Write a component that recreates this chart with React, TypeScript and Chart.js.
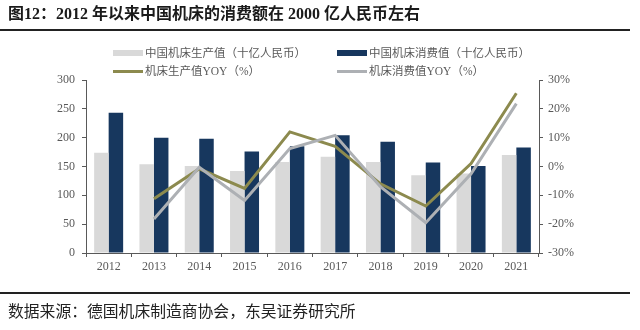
import React, { useEffect, useRef } from "react";
import { Chart, registerables } from "chart.js";

Chart.register(...registerables);

const years = ["2012", "2013", "2014", "2015", "2016", "2017", "2018", "2019", "2020", "2021"];
const production = [174, 154, 151, 142, 158, 167, 158, 135, 138, 170];
const consumption = [243, 200, 198, 176, 185, 204, 193, 157, 151, 183];
const productionYoY = [null, -11.2, -0.8, -7.6, 12, 7, -6, -13.7, 1, 25.4];
const consumptionYoY = [null, -18.2, -0.3, -11.8, 6.2, 10.8, -7, -19.5, -2.5, 21.8];

const labelProduction = "中国机床生产值（十亿人民币）";
const labelConsumption = "中国机床消费值（十亿人民币）";
const labelProdYoY = "机床生产值YOY（%）";
const labelConsYoY = "机床消费值YOY（%）";

const C_BAR_GRAY = "#D9D9D9";
const C_NAVY = "#17375E";
const C_OLIVE = "#8C8A4E";
const C_GRAYLINE = "#ADB0B4";
const AXIS = "#595959";

export default function App() {
  const ref = useRef<HTMLCanvasElement | null>(null);

  useEffect(() => {
    if (!ref.current) return;
    const tickFont = { family: "'Liberation Serif', 'Times New Roman', serif", size: 12 };
    const chart = new Chart(ref.current, {
      type: "bar",
      data: {
        labels: years,
        datasets: [
          {
            type: "line",
            label: labelConsYoY,
            data: consumptionYoY as any,
            yAxisID: "y1",
            borderColor: C_GRAYLINE,
            backgroundColor: C_GRAYLINE,
            borderWidth: 3,
            pointRadius: 0,
            tension: 0,
            order: 0,
          },
          {
            type: "line",
            label: labelProdYoY,
            data: productionYoY as any,
            yAxisID: "y1",
            borderColor: C_OLIVE,
            backgroundColor: C_OLIVE,
            borderWidth: 3,
            pointRadius: 0,
            tension: 0,
            order: 1,
          },
          {
            type: "bar",
            label: labelProduction,
            data: production,
            yAxisID: "y",
            backgroundColor: C_BAR_GRAY,
            barPercentage: 1,
            categoryPercentage: 0.64,
            order: 2,
          },
          {
            type: "bar",
            label: labelConsumption,
            data: consumption,
            yAxisID: "y",
            backgroundColor: C_NAVY,
            barPercentage: 1,
            categoryPercentage: 0.64,
            order: 2,
          },
        ],
      },
      options: {
        responsive: false,
        animation: false,
        devicePixelRatio: 1,
        layout: { padding: { top: 80, left: 0, right: 0, bottom: 0 } },
        plugins: {
          legend: { display: false },
          tooltip: { enabled: false },
          title: { display: false },
        },
        scales: {
          x: {
            offset: true,
            border: { display: true, color: AXIS, width: 1 },
            grid: { display: true, drawOnChartArea: false, drawTicks: true, tickLength: 4, color: AXIS, offset: true },
            ticks: { color: AXIS, font: tickFont, padding: 3, maxRotation: 0 },
            afterFit: (s: any) => { s.height = 77; },
          },
          y: {
            position: "left",
            min: 0,
            max: 300,
            border: { display: true, color: AXIS, width: 1 },
            grid: { display: true, drawOnChartArea: false, drawTicks: true, tickLength: 4, color: AXIS },
            ticks: { stepSize: 50, color: AXIS, font: tickFont, padding: 7 },
            afterFit: (s: any) => { s.width = 86; },
          },
          y1: {
            position: "right",
            min: -30,
            max: 30,
            border: { display: true, color: AXIS, width: 1 },
            grid: { display: true, drawOnChartArea: false, drawTicks: true, tickLength: 4, color: AXIS },
            ticks: {
              stepSize: 10,
              color: AXIS,
              font: tickFont,
              padding: 5,
              callback: (v: any) => `${v}%`,
            },
            afterFit: (s: any) => { s.width = 101; },
          },
        },
      },
    });
    return () => chart.destroy();
  }, []);

  const legendText: React.CSSProperties = {
    position: "absolute",
    fontFamily: "'Liberation Serif', 'Noto Sans CJK SC', serif",
    fontSize: 11.5,
    color: AXIS,
    whiteSpace: "nowrap",
    lineHeight: "14px",
  };

  return (
    <div style={{ position: "fixed", left: 0, top: 0, width: 640, height: 330, background: "#fff", overflow: "hidden" }}>
      <canvas ref={ref} width={640} height={330} style={{ position: "absolute", left: 0, top: 0, width: 640, height: 330 }} />
      <div
        style={{
          position: "absolute",
          left: 8,
          top: 5,
          fontFamily: "'Liberation Serif', 'Noto Sans CJK SC', serif",
          fontWeight: "bold",
          fontSize: 16,
          lineHeight: "18px",
          color: "#1a1a1a",
          whiteSpace: "nowrap",
        }}
      >
        图12：2012 年以来中国机床的消费额在 2000 亿人民币左右
      </div>
      <div style={{ position: "absolute", left: 0, top: 29, width: 630, height: 2, background: "#222" }} />

      <div style={{ position: "absolute", left: 113, top: 50, width: 30, height: 6, background: C_BAR_GRAY }} />
      <div style={{ ...legendText, left: 145, top: 46 }}>{labelProduction}</div>
      <div style={{ position: "absolute", left: 337, top: 50, width: 30, height: 6, background: C_NAVY }} />
      <div style={{ ...legendText, left: 369, top: 46 }}>{labelConsumption}</div>

      <div style={{ position: "absolute", left: 113, top: 70, width: 30, height: 3, background: C_OLIVE }} />
      <div style={{ ...legendText, left: 145, top: 64 }}>{labelProdYoY}</div>
      <div style={{ position: "absolute", left: 337, top: 70, width: 30, height: 3, background: C_GRAYLINE }} />
      <div style={{ ...legendText, left: 369, top: 64 }}>{labelConsYoY}</div>

      <div style={{ position: "absolute", left: 0, top: 292, width: 630, height: 2, background: "#222" }} />
      <div
        style={{
          position: "absolute",
          left: 8,
          top: 302,
          fontFamily: "'Noto Sans CJK SC', sans-serif",
          fontSize: 15.8,
          lineHeight: "18px",
          color: "#222",
          whiteSpace: "nowrap",
        }}
      >
        数据来源：德国机床制造商协会，东吴证券研究所
      </div>
    </div>
  );
}
